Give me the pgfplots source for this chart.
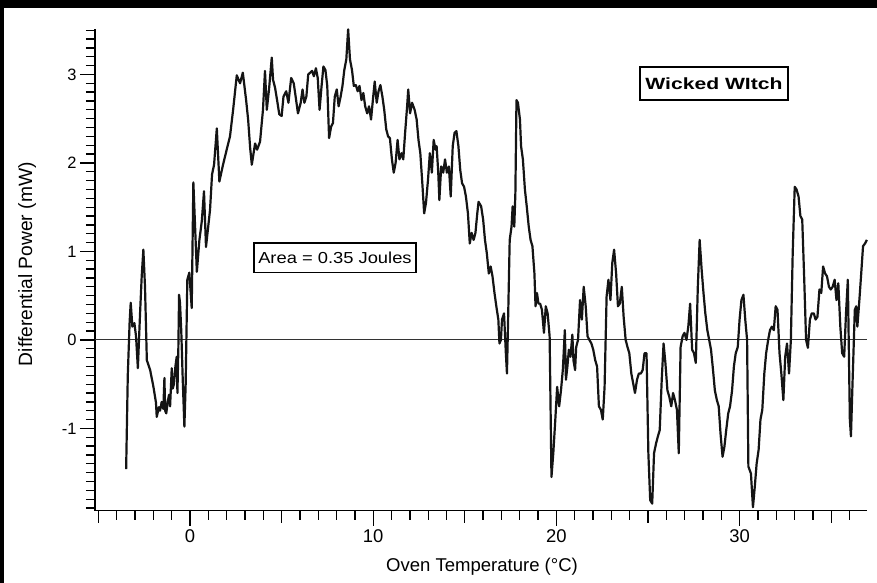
\documentclass[border=0pt]{standalone}
\usepackage{fontspec}
\setmainfont{Liberation Sans}
\newfontfamily\areafont{Liberation Sans}[FakeStretch=1.15]
\newfontfamily\witchfont{Liberation Sans}[FakeStretch=1.3]
\usepackage{pgfplots}
\usepackage{pgfplotstable}
\pgfplotsset{compat=1.18}
\pgfplotstableread{
x y
-3.49 -1.46
-3.40 -0.40
-3.30 0.20
-3.24 0.42
-3.15 0.15
-3.04 0.19
-2.95 0.04
-2.85 -0.32
-2.73 0.30
-2.64 0.72
-2.55 1.02
-2.46 0.60
-2.36 -0.23
-2.18 -0.34
-2.00 -0.53
-1.86 -0.71
-1.82 -0.87
-1.70 -0.76
-1.64 -0.80
-1.55 -0.70
-1.46 -0.78
-1.40 -0.43
-1.36 -0.80
-1.30 -0.83
-1.22 -0.70
-1.15 -0.62
-1.09 -0.75
-1.00 -0.32
-0.95 -0.55
-0.88 -0.50
-0.80 -0.30
-0.73 -0.19
-0.69 -0.60
-0.64 -0.10
-0.60 0.51
-0.55 0.42
-0.48 0.10
-0.40 -0.45
-0.31 -0.98
-0.24 -0.50
-0.15 0.68
-0.04 0.76
0.09 0.36
0.18 1.78
0.37 0.77
0.51 1.13
0.64 1.34
0.76 1.68
0.87 1.05
1.09 1.47
1.20 1.87
1.31 1.98
1.46 2.39
1.60 1.79
1.80 1.98
2.00 2.15
2.18 2.30
2.35 2.60
2.55 2.99
2.73 2.90
2.88 3.02
3.06 2.71
3.17 2.49
3.28 2.17
3.37 1.98
3.55 2.22
3.66 2.15
3.82 2.24
3.98 2.60
4.09 3.04
4.19 2.60
4.31 2.83
4.46 3.19
4.53 2.94
4.64 2.85
4.75 2.71
4.87 2.55
5.00 2.53
5.10 2.75
5.25 2.81
5.37 2.68
5.52 2.96
5.66 2.90
5.79 2.71
5.89 2.56
6.04 2.68
6.14 2.83
6.24 2.68
6.35 2.75
6.45 3.00
6.56 3.02
6.66 3.04
6.76 2.98
6.87 3.07
6.97 2.96
7.07 2.60
7.18 2.87
7.28 3.09
7.39 3.05
7.49 2.87
7.59 2.28
7.70 2.41
7.80 2.45
7.90 2.75
8.01 2.83
8.11 2.64
8.22 2.75
8.32 2.87
8.42 3.05
8.53 3.17
8.63 3.51
8.73 3.17
8.84 3.05
8.94 2.87
9.05 2.88
9.15 2.81
9.25 2.87
9.36 2.71
9.46 2.79
9.56 2.64
9.67 2.56
9.77 2.64
9.88 2.49
9.98 2.71
10.08 2.92
10.19 2.68
10.29 2.81
10.39 2.88
10.50 2.75
10.60 2.60
10.71 2.38
10.81 2.30
10.91 2.28
11.02 2.04
11.12 1.89
11.22 2.00
11.33 2.26
11.43 2.04
11.54 2.11
11.64 2.04
11.74 2.34
11.85 2.64
11.91 2.83
12.01 2.56
12.12 2.68
12.26 2.60
12.37 2.49
12.47 2.26
12.57 2.11
12.68 1.77
12.78 1.43
12.88 1.55
12.99 1.81
13.09 2.11
13.20 1.89
13.30 2.26
13.40 2.15
13.46 2.19
13.55 1.89
13.61 1.58
13.71 1.96
13.82 1.89
13.92 2.04
14.02 1.89
14.13 1.96
14.23 1.62
14.34 2.19
14.44 2.34
14.54 2.36
14.65 2.19
14.75 1.92
14.85 1.77
14.96 1.73
15.06 1.62
15.17 1.43
15.27 1.09
15.37 1.21
15.48 1.13
15.58 1.21
15.68 1.43
15.75 1.56
15.89 1.51
16.00 1.36
16.10 1.13
16.20 0.98
16.31 0.75
16.41 0.83
16.51 0.72
16.62 0.53
16.72 0.38
16.83 0.23
16.89 -0.04
16.97 0.00
17.03 0.23
17.14 0.30
17.24 -0.15
17.30 -0.38
17.34 0.00
17.45 1.13
17.55 1.28
17.61 1.51
17.70 1.28
17.76 1.66
17.82 2.71
17.90 2.68
18.01 2.49
18.07 2.19
18.17 2.04
18.28 1.70
18.38 1.51
18.49 1.28
18.59 1.13
18.69 1.06
18.80 0.75
18.86 0.38
18.94 0.53
19.02 0.41
19.11 0.41
19.21 0.34
19.32 0.08
19.42 0.38
19.52 0.30
19.63 0.04
19.73 -1.55
19.83 -1.28
19.94 -0.90
20.04 -0.53
20.15 -0.75
20.25 -0.57
20.35 -0.34
20.46 0.11
20.52 -0.45
20.60 -0.30
20.68 -0.11
20.77 -0.19
20.87 0.06
20.93 -0.23
21.02 -0.34
21.08 -0.08
21.18 0.00
21.29 0.45
21.39 0.23
21.49 0.60
21.60 0.38
21.70 0.04
21.80 0.00
21.91 -0.04
22.01 -0.11
22.12 -0.23
22.22 -0.30
22.32 -0.75
22.43 -0.79
22.53 -0.90
22.63 -0.53
22.74 0.49
22.84 0.68
22.95 0.45
23.05 0.87
23.15 1.02
23.26 0.75
23.36 0.38
23.46 0.41
23.57 0.60
23.67 0.26
23.78 0.00
23.88 -0.08
23.98 -0.15
24.09 -0.38
24.19 -0.49
24.29 -0.60
24.40 -0.45
24.50 -0.38
24.61 -0.38
24.71 -0.34
24.81 -0.15
24.92 -0.15
25.02 -1.28
25.12 -1.81
25.23 -1.85
25.33 -1.28
25.44 -1.17
25.54 -1.09
25.64 -1.02
25.75 -0.45
25.85 -0.04
25.95 -0.26
26.06 -0.57
26.16 -0.64
26.27 -0.75
26.37 -0.60
26.47 -0.68
26.58 -0.79
26.68 -1.28
26.78 -0.08
26.89 0.04
26.99 0.08
27.10 0.00
27.20 0.15
27.30 0.41
27.41 -0.11
27.51 -0.15
27.61 -0.26
27.72 0.60
27.82 1.13
27.93 0.79
28.03 0.53
28.13 0.30
28.24 0.11
28.34 0.00
28.44 -0.11
28.55 -0.34
28.65 -0.57
28.76 -0.68
28.86 -0.75
28.96 -1.06
29.07 -1.32
29.17 -1.21
29.27 -1.02
29.38 -0.83
29.48 -0.75
29.59 -0.57
29.69 -0.30
29.79 -0.15
29.90 -0.08
30.00 0.23
30.10 0.45
30.21 0.51
30.31 0.23
30.41 0.00
30.48 -1.43
30.62 -1.51
30.73 -1.89
30.83 -1.66
30.93 -1.40
31.04 -1.24
31.14 -0.90
31.24 -0.79
31.35 -0.38
31.45 -0.15
31.56 0.00
31.66 0.11
31.76 0.15
31.87 0.11
31.97 0.38
32.07 0.34
32.18 -0.15
32.28 -0.38
32.39 -0.68
32.49 -0.19
32.59 -0.04
32.70 -0.38
32.80 0.00
32.90 0.98
33.01 1.73
33.11 1.70
33.22 1.62
33.32 1.40
33.42 1.36
33.53 0.68
33.63 0.00
33.73 -0.09
33.84 0.23
33.94 0.30
34.05 0.30
34.15 0.23
34.25 0.26
34.36 0.57
34.46 0.53
34.56 0.83
34.67 0.75
34.77 0.72
34.88 0.60
34.98 0.57
35.08 0.60
35.19 0.68
35.29 0.45
35.39 0.64
35.50 0.15
35.60 -0.15
35.71 -0.19
35.81 0.30
35.91 0.68
36.02 -0.90
36.08 -1.09
36.16 -0.53
36.29 0.34
36.37 0.38
36.43 0.15
36.54 0.45
36.64 0.75
36.74 1.06
36.85 1.09
36.95 1.13
}\dsc

\begin{document}
\begin{tikzpicture}
\fill[black] (0,0) rectangle (877bp,-583bp);
\fill[white] (4bp,-8bp) rectangle (877bp,-583bp);
\begin{axis}[
  at={(95bp,-510.7bp)}, anchor=south west,
  width=771.7bp, height=481.4bp, scale only axis,
  xmin=-5.19, xmax=36.94, ymin=-1.93, ymax=3.51,
  axis x line*=bottom, axis y line*=left,
  axis line style={line width=1.4bp, black},
  tick align=outside,
  xtick={0,10,20,30}, minor xtick={-5,...,36},
  extra x ticks={-5,5,15,25,35}, extra x tick labels={},
  extra x tick style={major tick length=12bp},
  ytick={-1,0,1,2,3}, minor ytick={-1.9,-1.8,...,3.5},
  major tick length=15bp, minor tick length=9bp,
  every tick/.style={line width=1.3bp, black},
  /pgf/number format/assume math mode=true,
  xticklabel style={font=\fontsize{18.5}{18}\selectfont},
  yticklabel style={font=\fontsize{16.5}{16}\selectfont},
  xlabel={Oven Temperature (°C)},
  ylabel={Differential Power (mW)},
  xlabel style={font=\fontsize{18.6}{18}\selectfont, at={(axis description cs:0.5015,-0.117)}, anchor=center},
  ylabel style={font=\fontsize{19.3}{19}\selectfont, at={(axis description cs:-0.088,0.512)}, anchor=center},
  clip=false,
]
\addplot[black!80, line width=1bp] coordinates {(-5.19,0) (36.94,0)};
\addplot[black!92, line width=2.2bp, line join=round] table[x=x, y=y] {\dsc};
\node[draw, line width=1.3bp, fill=white, font={\areafont\fontsize{16}{16}\selectfont},
  minimum width=162bp, minimum height=29.4bp, inner sep=0pt] at (axis cs:7.91,0.93) {Area = 0.35 Joules};
\node[draw, line width=1.5bp, fill=white, font={\witchfont\bfseries\fontsize{16.3}{16}\selectfont},
  minimum width=148bp, minimum height=33bp, inner sep=0pt] at (axis cs:28.60,2.90) {Wicked WItch};
\end{axis}
\pgfresetboundingbox
\path (0,0) rectangle (877bp,-583bp);
\end{tikzpicture}
\end{document}
